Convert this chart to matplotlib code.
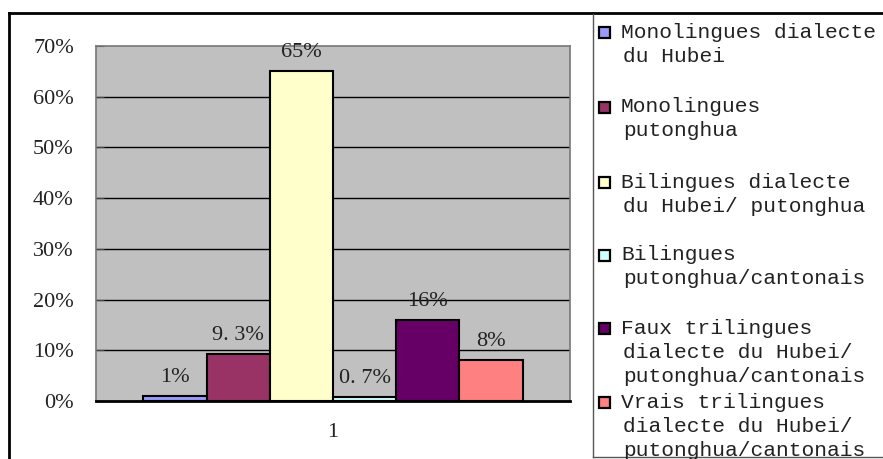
import matplotlib.pyplot as plt
from matplotlib.patches import Rectangle
from matplotlib.lines import Line2D

# --- data ---------------------------------------------------------------
series = [
    "Monolingues dialecte\ndu Hubei",
    "Monolingues\nputonghua",
    "Bilingues dialecte\ndu Hubei/ putonghua",
    "Bilingues\nputonghua/cantonais",
    "Faux trilingues\ndialecte du Hubei/\nputonghua/cantonais",
    "Vrais trilingues\ndialecte du Hubei/\nputonghua/cantonais",
]
values = [1, 9.3, 65, 0.7, 16, 8]
value_labels = ["1%", "9. 3%", "65%", "0. 7%", "16%", "8%"]
colors = ["#9999FF", "#993366", "#FFFFCC", "#CCFFFF", "#660066", "#FF8080"]
category = "1"
yticks = [0, 10, 20, 30, 40, 50, 60, 70]

W, H = 883, 459
fig = plt.figure(figsize=(W / 100, H / 100), dpi=100)
ax = fig.add_axes([96 / W, 1 - 401 / H, 474 / W, 355 / H])
ax.set_facecolor("#C0C0C0")

serif = "Liberation Serif"
mono = "Liberation Mono"

n = len(values)
bw = 0.8 / n
for i, (v, lab, c) in enumerate(zip(values, value_labels, colors)):
    x = (i - (n - 1) / 2) * bw
    ax.bar(x, v, width=bw, color=c, edgecolor="black", linewidth=1.5, zorder=3)
    ax.text(x, v + 1.8, lab, ha="center", va="bottom", fontsize=16,
            family=serif, color="#222222", zorder=4)

ax.set_xlim(-0.5, 0.5)
ax.set_ylim(0, 70)
ax.set_yticks(yticks)
ax.set_yticklabels([f"{t}%" for t in yticks], family=serif, fontsize=16)
ax.set_xticks([0])
ax.set_xticklabels([category], family=serif, fontsize=16)
ax.tick_params(axis="y", direction="in", length=6, color="#444444", pad=16)
ax.tick_params(axis="x", length=0, pad=16)
ax.tick_params(colors="#222222", which="both")
ax.tick_params(axis="y", color="#444444")
for t in yticks[1:-1]:
    ax.axhline(t, color="black", linewidth=1, zorder=1)
for s in ["top", "right", "left"]:
    ax.spines[s].set_color("#777777")
    ax.spines[s].set_linewidth(1.2)
ax.spines["bottom"].set_color("black")
ax.spines["bottom"].set_linewidth(2)
ax.spines["bottom"].set_zorder(5)

# --- outer chart border -------------------------------------------------
def fx(px):
    return px / W

def fy(py):
    return 1 - py / H

fig.add_artist(Line2D([fx(9), fx(W)], [fy(13), fy(13)], color="black", lw=2))
fig.add_artist(Line2D([fx(9), fx(9)], [fy(13), fy(H)], color="black", lw=2))

# --- legend box ---------------------------------------------------------
fig.add_artist(Line2D([fx(593), fx(593)], [fy(14), fy(457)], color="#555555", lw=1))
fig.add_artist(Line2D([fx(593), fx(W)], [fy(457), fy(457)], color="#555555", lw=1))

item_y = [32, 107, 182, 255, 328, 402]
for lab, c, y0 in zip(series, colors, item_y):
    fig.add_artist(Rectangle((fx(599), fy(y0 + 5.5)), 11 / W, 11 / H, transform=fig.transFigure,
                             facecolor=c, edgecolor="black", linewidth=1.6))
    for k, line in enumerate(lab.split("\n")):
        fig.text(fx(621 if k == 0 else 623), fy(y0 + k * 24), line, ha="left", va="center",
                 fontsize=15.3, family=mono, color="#222222")

fig.savefig("out.png", dpi=100)
